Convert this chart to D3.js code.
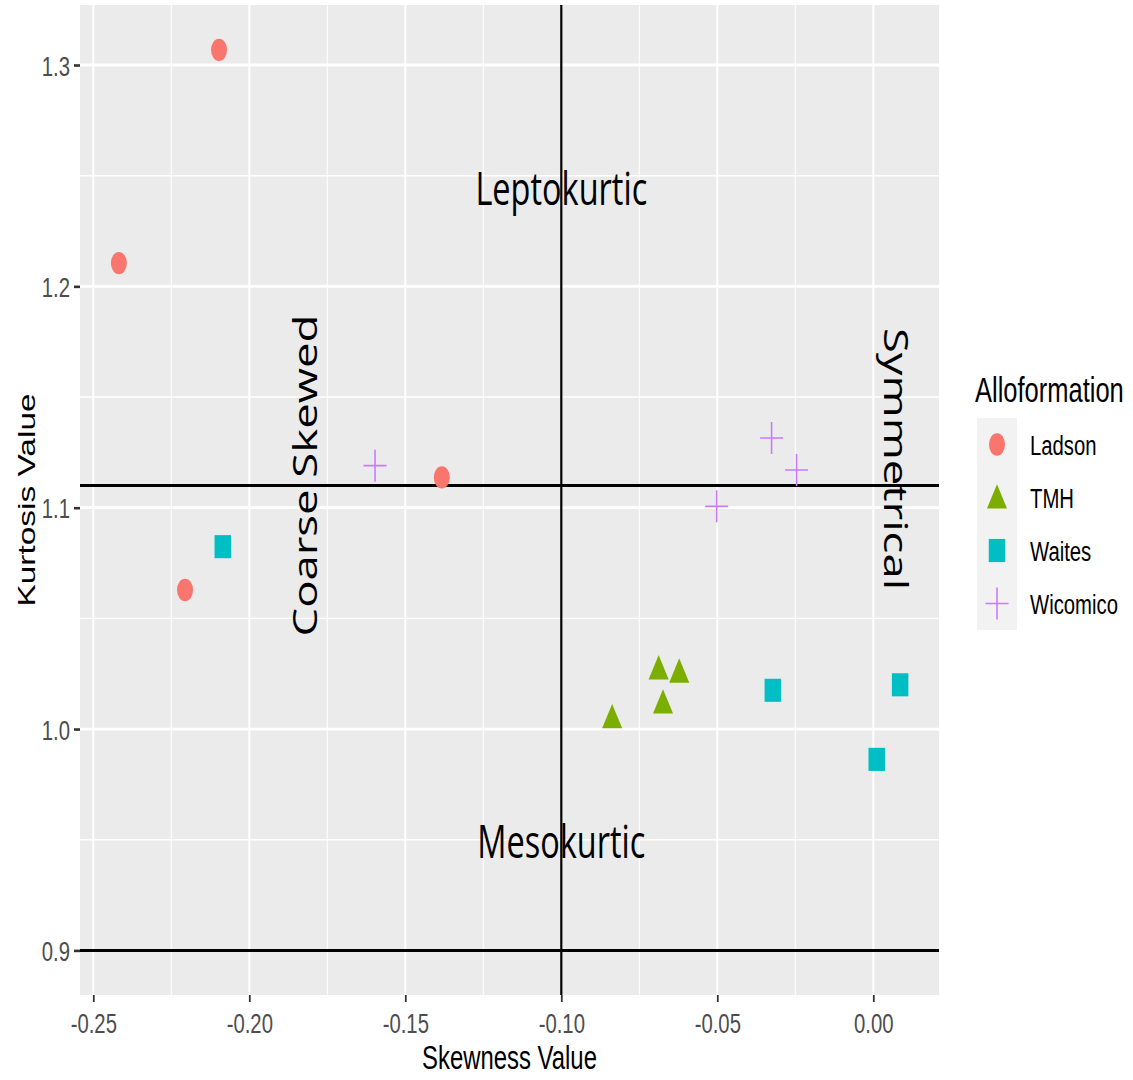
<!DOCTYPE html>
<html>
<head>
<meta charset="utf-8">
<script src="https://cdn.jsdelivr.net/npm/d3@7"></script>
<style>
  html, body { margin: 0; padding: 0; background: #ffffff; }
  svg { display: block; }
</style>
</head>
<body>
<svg id="chart" width="1133" height="1080"></svg>
<script>
// ---- data -------------------------------------------------------------
const groups = ["Ladson", "TMH", "Waites", "Wicomico"];

// [skewness, kurtosis] per sample
const ladson   = [[-0.2097, 1.3068], [-0.2418, 1.2105], [-0.1383, 1.1137], [-0.2206, 1.0628]];
const tmh      = [[-0.0837, 1.0040], [-0.0688, 1.0261], [-0.0622, 1.0246], [-0.0674, 1.0107]];
const waites   = [[-0.2085, 1.0824], [-0.0322, 1.0175], [0.0086, 1.0200], [0.0011, 0.9863]];
const wicomico = [[-0.1597, 1.1190], [-0.0326, 1.1315], [-0.0246, 1.1170], [-0.0502, 1.1006]];

const xTicks = [-0.25, -0.20, -0.15, -0.10, -0.05, 0.00];
const xTickLabels = ["-0.25", "-0.20", "-0.15", "-0.10", "-0.05", "0.00"];
const yTicks = [0.9, 1.0, 1.1, 1.2, 1.3];
const yTickLabels = ["0.9", "1.0", "1.1", "1.2", "1.3"];
const xMinor = [-0.225, -0.175, -0.125, -0.075, -0.025];
const yMinor = [0.95, 1.05, 1.15, 1.25];

// reference lines
const hLines = [1.11, 0.9];
const vLines = [-0.1];

// quadrant labels
const annotations = [
  { label: "Leptokurtic",   x: -0.1,    y: 1.244,  angle: 0 },
  { label: "Mesokurtic",    x: -0.1,    y: 0.949,  angle: 0 },
  { label: "Coarse Skewed", x: -0.1822, y: 1.1145, angle: -90 },
  { label: "Symmetrical",   x: 0.0071,  y: 1.122,  angle: 90 }
];

// ---- layout -----------------------------------------------------------
const panel = { left: 80, right: 939, top: 5, bottom: 995 };
const SY = 1.4;   // vertical stretch of glyphs and marks

const svg = d3.select("#chart");

const x = d3.scaleLinear().domain([-0.25, 0]).range([93.3, 873.3]);
const y = d3.scaleLinear().domain([0.9, 1.3]).range([950.4, 65]);

const color = d3.scaleOrdinal().domain(groups)
  .range(["#F8766D", "#7CAE00", "#00BFC4", "#C77CFF"]);

const series = [
  { name: "Ladson",   values: ladson },
  { name: "TMH",      values: tmh },
  { name: "Waites",   values: waites },
  { name: "Wicomico", values: wicomico }
];

// ---- panel background + grid -----------------------------------------
svg.append("rect")
  .attr("x", panel.left).attr("y", panel.top)
  .attr("width", panel.right - panel.left)
  .attr("height", panel.bottom - panel.top)
  .attr("fill", "#EBEBEB");

const grid = svg.append("g");
grid.selectAll(".xminor").data(xMinor).join("line")
  .attr("x1", d => x(d)).attr("x2", d => x(d))
  .attr("y1", panel.top).attr("y2", panel.bottom)
  .attr("stroke", "#fff").attr("stroke-width", 1);
grid.selectAll(".yminor").data(yMinor).join("line")
  .attr("y1", d => y(d)).attr("y2", d => y(d))
  .attr("x1", panel.left).attr("x2", panel.right)
  .attr("stroke", "#fff").attr("stroke-width", 1.4);
grid.selectAll(".xmajor").data(xTicks).join("line")
  .attr("x1", d => x(d)).attr("x2", d => x(d))
  .attr("y1", panel.top).attr("y2", panel.bottom)
  .attr("stroke", "#fff").attr("stroke-width", 2);
grid.selectAll(".ymajor").data(yTicks).join("line")
  .attr("y1", d => y(d)).attr("y2", d => y(d))
  .attr("x1", panel.left).attr("x2", panel.right)
  .attr("stroke", "#fff").attr("stroke-width", 2.8);

// ---- axes -------------------------------------------------------------
const xAxis = svg.append("g")
  .attr("transform", `translate(0,${panel.bottom})`)
  .call(d3.axisBottom(x).tickValues(xTicks)
    .tickFormat((d, i) => xTickLabels[i]).tickSize(7).tickPadding(0));
xAxis.select(".domain").remove();
xAxis.selectAll(".tick line").attr("stroke", "#333").attr("stroke-width", 1.8);
xAxis.selectAll(".tick text")
  .attr("y", 27.2).attr("dy", 0)
  .attr("transform", `scale(1,${SY})`)
  .attr("fill", "#4D4D4D")
  .style("font-family", "'Liberation Sans', Arial, sans-serif")
  .style("font-size", "20.3px");

const yAxis = svg.append("g")
  .attr("transform", `translate(${panel.left},0)`)
  .call(d3.axisLeft(y).tickValues(yTicks)
    .tickFormat((d, i) => yTickLabels[i]).tickSize(6).tickPadding(0));
yAxis.select(".domain").remove();
yAxis.selectAll(".tick line").attr("stroke", "#333").attr("stroke-width", 2.6);
yAxis.selectAll(".tick text")
  .attr("x", -10).attr("dy", "0.36em")
  .attr("transform", `scale(1,${SY})`)
  .attr("fill", "#4D4D4D")
  .style("font-family", "'Liberation Sans', Arial, sans-serif")
  .style("font-size", "20.3px");

// axis titles
function stretchedText(parent, px, py, angle, str) {
  return parent.append("text")
    .attr("transform", `translate(${px},${py}) scale(1,${SY})` + (angle ? ` rotate(${angle})` : ""))
    .text(str);
}
stretchedText(svg, (panel.left + panel.right) / 2, 1069, 0, "Skewness Value")
  .attr("text-anchor", "middle")
  .style("font-family", "'Liberation Sans', Arial, sans-serif")
  .style("font-size", "23.9px").attr("fill", "#000");
stretchedText(svg, 35, (panel.top + panel.bottom) / 2, -90, "Kurtosis Value")
  .attr("text-anchor", "middle")
  .style("font-family", "'Liberation Sans', Arial, sans-serif")
  .style("font-size", "23.9px").attr("fill", "#000");

// ---- quadrant labels --------------------------------------------------
const ann = svg.append("g");
annotations.forEach(a => {
  stretchedText(ann, x(a.x), y(a.y), a.angle, a.label)
    .attr("text-anchor", "middle")
    .attr("dy", "0.36em")
    .style("font-family", "'Open Sans', sans-serif")
    .style("font-size", "32.5px")
    .attr("fill", "#000");
});

// ---- reference lines --------------------------------------------------
const refs = svg.append("g");
refs.selectAll(".h").data(hLines).join("line")
  .attr("x1", panel.left).attr("x2", panel.right)
  .attr("y1", d => y(d)).attr("y2", d => y(d))
  .attr("stroke", "#000").attr("stroke-width", 3);
refs.selectAll(".v").data(vLines).join("line")
  .attr("y1", panel.top).attr("y2", panel.bottom)
  .attr("x1", d => x(d)).attr("x2", d => x(d))
  .attr("stroke", "#000").attr("stroke-width", 2.2);

// ---- marks ------------------------------------------------------------
const symbolPath = {
  Ladson: d3.symbol().type(d3.symbolCircle).size(Math.PI * 8 * 8)(),
  TMH: d3.symbol().type(d3.symbolTriangle).size(5.8 * 5.8 * 3 * Math.sqrt(3))(),
  Waites: d3.symbol().type(d3.symbolSquare).size(16.5 * 16.5)()
};

function drawMark(parent, name, px, py) {
  if (name === "Wicomico") {
    const rx = 11.5, ry = 16;
    parent.append("path")
      .attr("d", `M${px - rx},${py}H${px + rx}M${px},${py - ry}V${py + ry}`)
      .attr("fill", "none")
      .attr("stroke", color(name))
      .attr("stroke-width", 1.6);
  } else {
    parent.append("path")
      .attr("d", symbolPath[name])
      .attr("transform", `translate(${px},${py}) scale(1,${SY})`)
      .attr("fill", color(name));
  }
}

const marks = svg.append("g");
series.forEach(s => {
  s.values.forEach(([sk, ku]) => drawMark(marks, s.name, x(sk), y(ku)));
});

// ---- legend -----------------------------------------------------------
const legend = svg.append("g");
stretchedText(legend, 975, 402, 0, "Alloformation")
  .style("font-family", "'Liberation Sans', Arial, sans-serif")
  .style("font-size", "25.5px").attr("fill", "#000");

const keyTop = 418, keyH = 53, keyX = 977, keyW = 40;
groups.forEach((g, i) => {
  const cy = keyTop + keyH * i + keyH / 2;
  legend.append("rect")
    .attr("x", keyX).attr("y", keyTop + keyH * i)
    .attr("width", keyW).attr("height", keyH)
    .attr("fill", "#F2F2F2");
  drawMark(legend, g, keyX + keyW / 2, g === "TMH" ? cy + 3 : cy);
  stretchedText(legend, 1030, cy, 0, g)
    .attr("dy", "0.36em")
    .style("font-family", "'Liberation Sans', Arial, sans-serif")
    .style("font-size", "20.3px").attr("fill", "#000");
});
</script>
</body>
</html>
